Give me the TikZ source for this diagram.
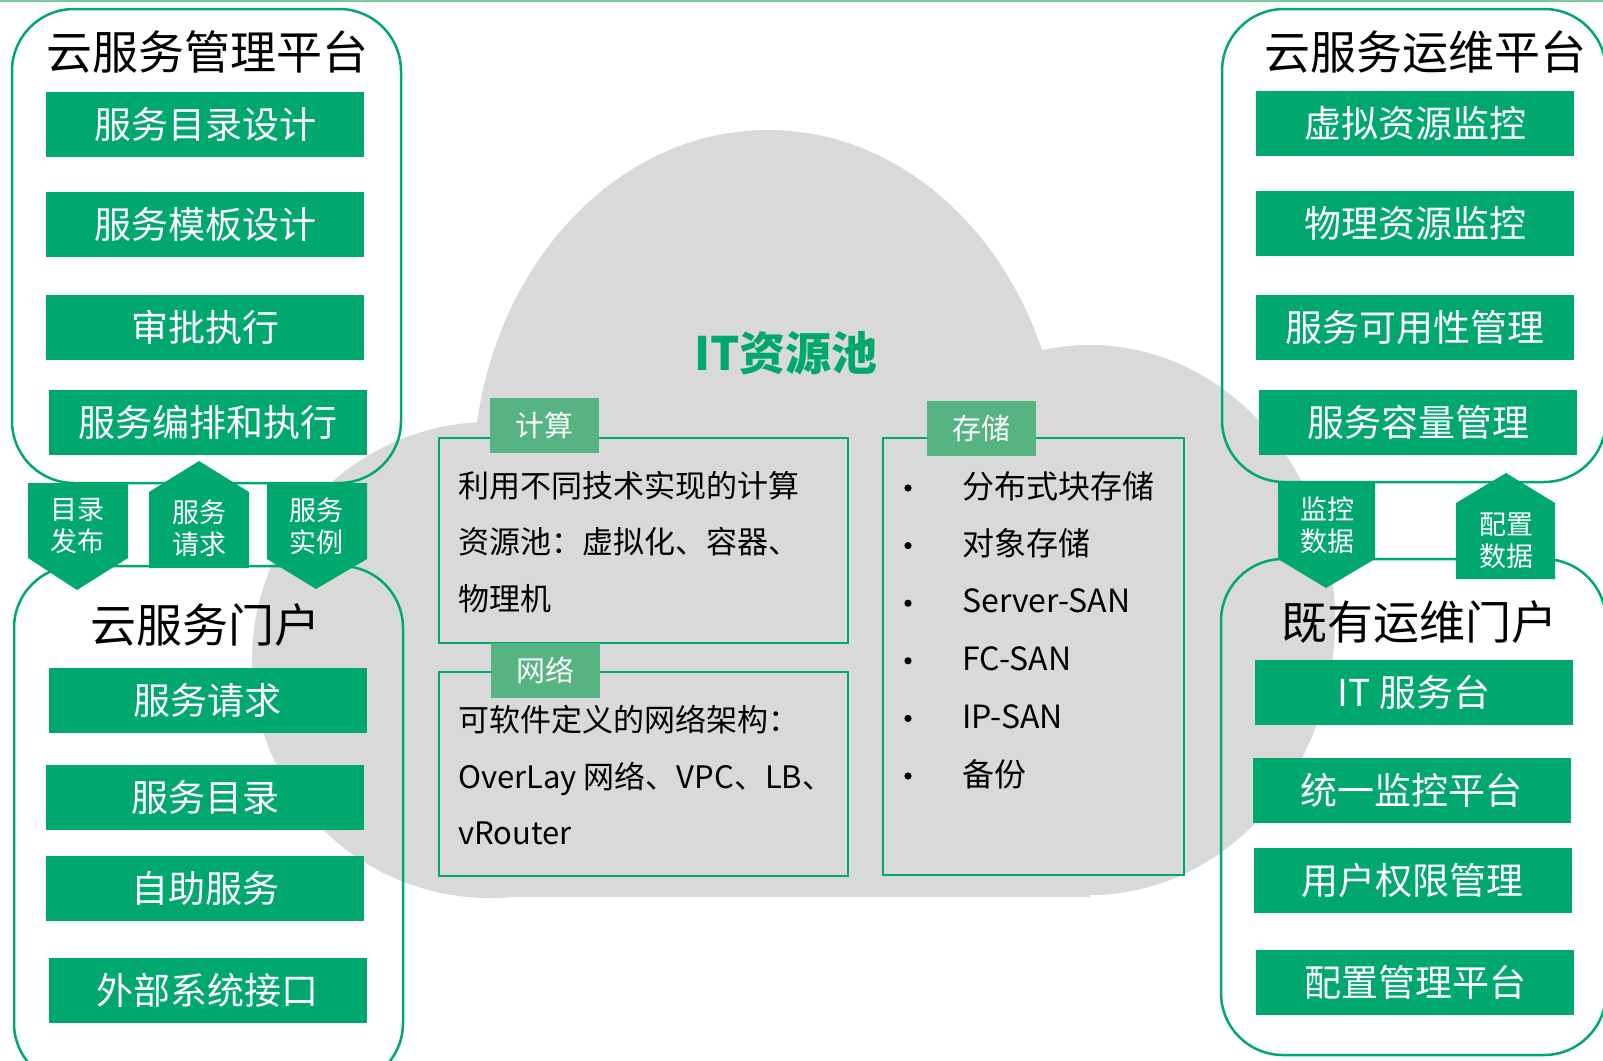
\documentclass[tikz,border=0pt]{standalone}
\usepackage{fontspec}
\setmainfont{Noto Sans CJK SC}
\newfontfamily\cjk{Noto Sans CJK SC}
\usetikzlibrary{positioning}

\definecolor{boxgreen}{RGB}{0,168,112}
\definecolor{taggreen}{RGB}{85,180,130}
\definecolor{cloudgray}{RGB}{217,217,217}
\definecolor{linegreen}{RGB}{120,200,155}

\tikzset{
  panel/.style={draw=boxgreen, line width=2.5pt, rounded corners=62pt},
  gbox/.style={fill=boxgreen, text=white, minimum width=318pt, minimum height=65pt,
    inner sep=0pt, font=\cjk\fontsize{37}{40}\selectfont},
  ptitle/.style={inner sep=0pt, font=\cjk\fontsize{46}{50}\selectfont},
  flowtext/.style={text=white, align=center, inner sep=0pt, font=\cjk\fontsize{27}{32}\selectfont},
  poolbox/.style={draw=boxgreen, line width=2pt},
  pooltag/.style={fill=taggreen, text=white, minimum width=109pt, minimum height=55pt,
    inner sep=0pt, font=\cjk\fontsize{29}{32}\selectfont},
  pooltext/.style={anchor=west, align=left, inner sep=0pt, font=\cjk\fontsize{31}{56.5}\selectfont},
}

\begin{document}
\begin{tikzpicture}[x=1pt,y=1pt,yscale=-1]
  \useasboundingbox (0,0) rectangle (1603,1060);
  % top line
  \draw[linegreen, line width=2pt] (0,1) -- (1603,1);

  % cloud
  \fill[cloudgray] (768,480) ellipse [x radius=295, y radius=350];
  \fill[cloudgray] (490,660) circle [radius=238];
  \fill[cloudgray] (1090,620) ellipse [x radius=245, y radius=275];
  \fill[cloudgray] (490,560) rectangle (1090,897);

  % panels
  \draw[panel] (12,9) rectangle (401,483);
  \draw[panel] (14,566) rectangle (403,1085);
  \draw[panel] (1222,9) rectangle (1606,482);
  \draw[panel] (1221,559) rectangle (1606,1055);

  % cloud management
  \node[ptitle] (mgmt) at (207,52) {云服务管理平台};
  \node[gbox] (catdesign) at (205,124.5) {服务目录设计};
  \node[gbox] (tpldesign) at (205,224) {服务模板设计};
  \node[gbox] (approve) at (205,327) {审批执行};
  \node[gbox] (orchestr) at (208,422) {服务编排和执行};

  % cloud portal
  \node[ptitle] (portal) at (205,625) {云服务门户};
  \node[gbox] (request) at (207.5,700.5) {服务请求};
  \node[gbox] (catalog) at (205,797.5) {服务目录};
  \node[gbox] (selfserv) at (205,888.5) {自助服务};
  \node[gbox] (extif) at (207.5,990.5) {外部系统接口};

  % cloud operation
  \node[ptitle] (ops) at (1425,52) {云服务运维平台};
  \node[gbox] (virtmon) at (1415,123.5) {虚拟资源监控};
  \node[gbox] (physmon) at (1415,223) {物理资源监控};
  \node[gbox] (avail) at (1415,327) {服务可用性管理};
  \node[gbox] (capacity) at (1418,422) {服务容量管理};

  % existing portal
  \node[ptitle] (legacy) at (1419,622) {既有运维门户};
  \node[gbox] (itdesk) at (1414,692) {IT 服务台};
  \node[gbox] (unimon) at (1411.5,790) {统一监控平台};
  \node[gbox] (rights) at (1412.5,880.5) {用户权限管理};
  \node[gbox] (config) at (1415,982) {配置管理平台};

  % IT pool
  \node[inner sep=0pt, text=boxgreen, font=\cjk\bfseries\fontsize{46}{50}\selectfont] (pool) at (786,353) {IT资源池};

  \draw[poolbox] (439,438) rectangle (848,643);
  \node[pooltag] (compute) at (544.5,425.5) {计算};
  \node[pooltext] (computetxt) at (458,542) {利用不同技术实现的计算\\资源池：虚拟化、容器、\\物理机};

  \draw[poolbox] (439,672) rectangle (848,876);
  \node[pooltag] (network) at (545.5,670.5) {网络};
  \node[pooltext] (networktxt) at (458,775) {可软件定义的网络架构：\\OverLay 网络、VPC、LB、\\vRouter};

  \draw[poolbox] (883,438) rectangle (1184,875);
  \node[pooltag] (storage) at (981.5,428.5) {存储};
  \foreach \t [count=\i] in {分布式块存储,对象存储,Server-SAN,FC-SAN,IP-SAN,备份} {
    \fill (908,{488+57.6*(\i-1)}) circle [radius=3.6] coordinate (dot\i);
    \node[anchor=west, inner sep=0pt, font=\cjk\fontsize{32}{34}\selectfont] (item\i) at ({962},{486+57.6*(\i-1)}) {\t};
  }

  % flow arrows left
  \fill[boxgreen] (28,483) -- (128,483) -- (128,558) -- (77,590) -- (28,558) -- cycle;
  \node[flowtext] (publish) at (77,526) {目录\\发布};
  \fill[boxgreen] (149,568) -- (249,568) -- (249,492) -- (199,461) -- (149,492) -- cycle;
  \node[flowtext] (servreq) at (199,528) {服务\\请求};
  \fill[boxgreen] (267,483) -- (367,483) -- (367,559) -- (316,589) -- (267,559) -- cycle;
  \node[flowtext] (instance) at (316,526) {服务\\实例};

  % flow arrows right
  \fill[boxgreen] (1278,483) -- (1375,483) -- (1375,559) -- (1326,588) -- (1278,559) -- cycle;
  \node[flowtext] (mondata) at (1327,525) {监控\\数据};
  \fill[boxgreen] (1456,579) -- (1555,579) -- (1555,503) -- (1506,473) -- (1456,503) -- cycle;
  \node[flowtext] (cfgdata) at (1506,541) {配置\\数据};
\end{tikzpicture}
\end{document}
